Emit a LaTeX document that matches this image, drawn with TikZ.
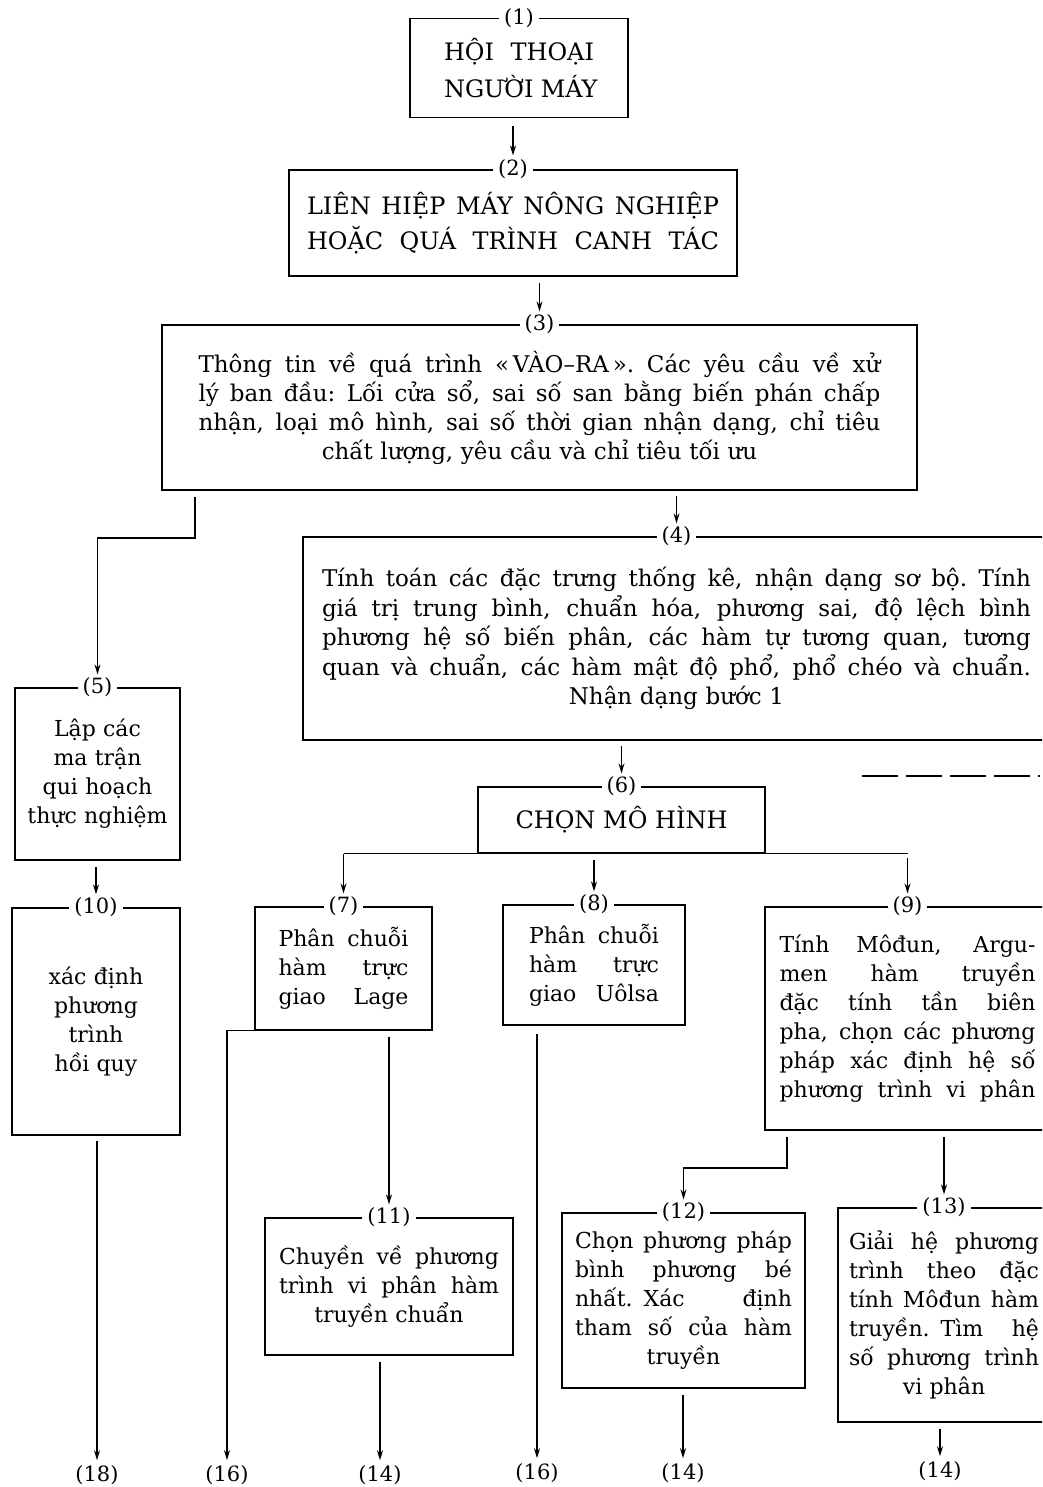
\documentclass[tikz,border=0pt]{standalone}
\usepackage{fontspec}
\setmainfont{DejaVu Serif}
\usetikzlibrary{arrows.meta}
\def\jl#1{\makebox[\hsize][s]{\spaceskip=.3em plus 1fil\relax #1}}

\begin{document}
\begin{tikzpicture}[x=1pt, y=-1pt,
		khung/.style={draw, line width=1.6pt, inner sep=0pt, align=center, font=\fontsize{22}{29}\selectfont},
		so/.style={fill=white, inner xsep=5pt, inner ysep=0pt, font=\fontsize{21}{21}\selectfont},
		den/.style={inner sep=1pt, font=\fontsize{21}{21}\selectfont},
		noi/.style={line width=1.3pt},
		pil/.style={line width=1.3pt, -{Stealth[length=10pt, width=6pt]}}]
			%%%%% START %%%%%
			\useasboundingbox (0,0) rectangle (1042,1487);
			\clip (0,0) rectangle (1042,1487);
			
			\node[khung, minimum width=218pt, minimum height=99pt, text width=150pt, font=\fontsize{24}{37}\selectfont] (b1) at (519,68) {\jl{HỘI THOẠI}\\\jl{NGƯỜI MÁY}};
			\node[khung, minimum width=448pt, minimum height=106pt, text width=412pt, font=\fontsize{24}{35}\selectfont] (b2) at (513,223) {\jl{LIÊN HIỆP MÁY NÔNG NGHIỆP}\\\jl{HOẶC QUÁ TRÌNH CANH TÁC}};
			\node[khung, minimum width=755pt, minimum height=165pt, text width=682pt, font=\fontsize{23}{29}\selectfont] (b3) at (539.5,407.5) {\jl{Thông tin về quá trình «\,VÀO–RA\,». Các yêu cầu về xử}\\\jl{lý ban đầu: Lối cửa sổ, sai số san bằng biến phán chấp}\\\jl{nhận, loại mô hình, sai số thời gian nhận dạng, chỉ tiêu}\\chất lượng, yêu cầu và chỉ tiêu tối ưu};
			\node[khung, minimum width=747pt, minimum height=203pt, text width=709pt, font=\fontsize{23}{29.5}\selectfont] (b4) at (676.5,638.5) {\jl{Tính toán các đặc trưng thống kê, nhận dạng sơ bộ. Tính}\\\jl{giá trị trung bình, chuẩn hóa, phương sai, độ lệch bình}\\\jl{phương hệ số biến phân, các hàm tự tương quan, tương}\\\jl{quan và chuẩn, các hàm mật độ phổ, phổ chéo và chuẩn.}\\Nhận dạng bước 1};
			\node[khung, minimum width=165pt, minimum height=172pt, text width=150pt] (b5) at (97.5,774) {Lập các\\ma trận\\qui hoạch\\thực nghiệm};
			\node[khung, minimum width=287pt, minimum height=66pt, text width=212pt, font=\fontsize{24}{29}\selectfont] (b6) at (621.5,820) {\jl{CHỌN MÔ HÌNH}};
			\node[khung, minimum width=177pt, minimum height=123pt, text width=130pt] (b7) at (343.5,968.5) {\jl{Phân chuỗi}\\\jl{hàm trực}\\\jl{giao Lage}};
			\node[khung, minimum width=182pt, minimum height=120pt, text width=130pt] (b8) at (594,965) {\jl{Phân chuỗi}\\\jl{hàm trực}\\\jl{giao Uôlsa}};
			\node[khung, minimum width=285pt, minimum height=223pt, text width=256pt] (b9) at (907.5,1018.5) {\jl{Tính Môđun, Argu-}\\\jl{men hàm truyền}\\\jl{đặc tính tần biên}\\\jl{pha, chọn các phương}\\\jl{pháp xác định hệ số}\\\jl{phương trình vi phân}};
			\node[khung, minimum width=168pt, minimum height=227pt, text width=150pt] (b10) at (96,1021.5) {xác định\\phương\\trình\\hồi quy};
			\node[khung, minimum width=248pt, minimum height=137pt, text width=220pt] (b11) at (389,1286.5) {\jl{Chuyền về phương}\\\jl{trình vi phân hàm}\\truyền chuẩn};
			\node[khung, minimum width=243pt, minimum height=175pt, text width=217pt] (b12) at (683.5,1300.5) {\jl{Chọn phương pháp}\\\jl{bình phương bé}\\\jl{nhất. Xác định}\\\jl{tham số của hàm}\\truyền};
			\node[khung, minimum width=212pt, minimum height=214pt, text width=190pt] (b13) at (944,1315) {\jl{Giải hệ phương}\\\jl{trình theo đặc}\\\jl{tính Môđun hàm}\\\jl{truyền. Tìm hệ}\\\jl{số phương trình}\\vi phân};
			
			% so thu tu tren canh khung
			\node[so] (n1) at (b1.north) {(1)};
			\node[so] (n2) at (b2.north) {(2)};
			\node[so] (n3) at (b3.north) {(3)};
			\node[so] (n4) at (b4.north) {(4)};
			\node[so] (n5) at (b5.north) {(5)};
			\node[so] (n6) at (b6.north) {(6)};
			\node[so] (n7) at (b7.north) {(7)};
			\node[so] (n8) at (b8.north) {(8)};
			\node[so] (n9) at (b9.north) {(9)};
			\node[so] (n10) at (b10.north) {(10)};
			\node[so] (n11) at (b11.north) {(11)};
			\node[so] (n12) at (b12.north) {(12)};
			\node[so] (n13) at (b13.north) {(13)};
			
			% dau ra
			\node[den] (e18) at (97,1475) {(18)};
			\node[den] (e16a) at (227,1475) {(16)};
			\node[den] (e14a) at (380,1475) {(14)};
			\node[den] (e16b) at (537,1473) {(16)};
			\node[den] (e14b) at (683,1473) {(14)};
			\node[den] (e14c) at (940,1471) {(14)};
			
			\coordinate (k5) at (195,538);
			\coordinate (k12) at (787,1168);
			
			\draw[pil, shorten <=8pt, shorten >=4pt] (n2.north |- b1.south) -- (n2.north);
			\draw[pil, shorten <=6pt, shorten >=3pt] (n3.north |- b2.south) -- (n3.north);
			\draw[pil, shorten <=5pt, shorten >=3pt] (n4.north |- b3.south) -- (n4.north);
			\draw[pil, shorten <=6pt, shorten >=3pt] (b3.south -| k5) -- (k5) -- (k5 -| n5.north) -- (n5.north);
			\draw[pil, shorten <=5pt, shorten >=3pt] (n6.north |- b4.south) -- (n6.north);
			
			\draw[noi] (b6.south -| n7.north) -- (b6.south -| n9.north);
			\draw[pil, shorten >=3pt] (b6.south -| n7.north) -- (n7.north);
			\draw[pil, shorten <=6pt, shorten >=3pt] (b6.south -| n8.north) -- (n8.north);
			\draw[pil, shorten <=4pt, shorten >=3pt] (b6.south -| n9.north) -- (n9.north);
			
			\draw[pil, shorten <=6pt, shorten >=3pt] (b5.south -| n10.north) -- (n10.north);
			\draw[pil, shorten <=5pt, shorten >=4pt] (b10.south -| e18.north) -- (e18.north);
			\draw[pil, shorten >=4pt] (b7.south west) -- (b7.south west -| e16a.north) -- (e16a.north);
			\draw[pil, shorten <=6pt, shorten >=3pt] (b7.south -| n11.north) -- (n11.north);
			\draw[pil, shorten <=6pt, shorten >=4pt] (b11.south -| e14a.north) -- (e14a.north);
			\draw[pil, shorten <=8pt, shorten >=4pt] (b8.south -| e16b.north) -- (e16b.north);
			\draw[pil, shorten <=6pt, shorten >=3pt] (b9.south -| k12) -- (k12) -- (k12 -| n12.north) -- (n12.north);
			\draw[pil, shorten <=6pt, shorten >=3pt] (b9.south -| n13.north) -- (n13.north);
			\draw[pil, shorten <=6pt, shorten >=4pt] (b12.south -| e14b.north) -- (e14b.north);
			\draw[pil, shorten <=6pt, shorten >=4pt] (b13.south -| e14c.north) -- (e14c.north);
			
			\draw[line width=1.4pt, dash pattern=on 36pt off 8pt] (862,776) -- (1040,776);
			
			%%%%% END %%%%%
\end{tikzpicture}
\end{document}
